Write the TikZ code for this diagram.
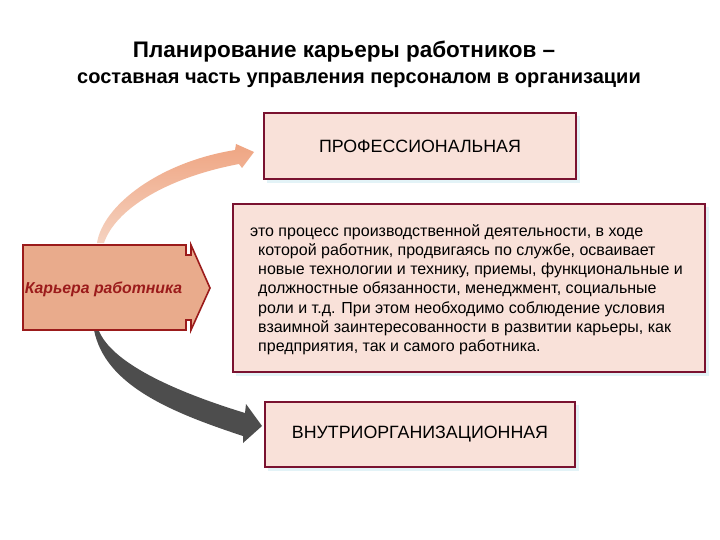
\documentclass[tikz,border=0pt]{standalone}
\usepackage{fontspec}
\setmainfont{Liberation Sans}
\definecolor{boxfill}{HTML}{F9E1D9}
\definecolor{boxline}{HTML}{7A1230}
\definecolor{carfill}{HTML}{E9AB8C}
\definecolor{carline}{HTML}{9B1B1B}
\definecolor{darkarrow}{HTML}{4D4D4D}
\definecolor{paleend}{HTML}{F5D2C0}
\definecolor{salmon}{HTML}{EFA582}
\definecolor{shadowc}{HTML}{E3F3F7}
\begin{document}
\begin{tikzpicture}[x=1pt,y=-1pt,
  box/.style={draw=boxline, line width=1.8pt, fill=boxfill, inner sep=0pt, font=\fontsize{17.8}{20}\selectfont}]
\useasboundingbox[fill=white] (0,0) rectangle (720,540);

% title
\node[font=\bfseries\fontsize{22.5}{26}\selectfont] (t1) at (344,52) {Планирование карьеры работников –};
\node[font=\bfseries\fontsize{20}{24}\selectfont] (t2) at (359,80) {составная часть управления персоналом в организации};

% boxes with faint shadows
\fill[shadowc] (267,116) rectangle (580,183);
\node[box, minimum width=312pt, minimum height=66pt] (prof) at (420,146) {ПРОФЕССИОНАЛЬНАЯ};
\fill[shadowc] (236,207) rectangle (709,376);
\node[box, minimum width=472pt, minimum height=168pt] (desc) at (469,288) {};
\node[anchor=north west, inner sep=0pt, align=left, font=\fontsize{16}{19.3}\selectfont] (desctext) at (258,224)
{\hspace*{-8pt}это процесс производственной деятельности, в ходе\\
которой работник, продвигаясь по службе, осваивает\\
новые технологии и технику, приемы, функциональные и\\
должностные обязанности, менеджмент, социальные\\
роли и т.д. При этом необходимо соблюдение условия\\
взаимной заинтересованности в развитии карьеры, как\\
предприятия, так и самого работника.};
\fill[shadowc] (268,405) rectangle (579,471);
\node[box, minimum width=310pt, minimum height=65pt] (vnutr) at (420,434.5) {ВНУТРИОРГАНИЗАЦИОННАЯ};

% curved arrows
\shade[bottom color=paleend, middle color=salmon, top color=salmon]
  (97,243) .. controls (103,205) and (160,162) .. (235,150)
  -- (236,144) -- (254,152) -- (242,168) -- (239,164)
  .. controls (165,178) and (115,210) .. (104,243) -- cycle;
\fill[darkarrow]
  (94,330) .. controls (105,385) and (170,412) .. (243,436)
  -- (243,443) -- (262,426) -- (246,404) -- (245,413)
  .. controls (170,390) and (112,362) .. (99,331) -- cycle;

% career shape
\draw[draw=carline, line width=1.6pt, fill=carfill, line join=miter]
  (23,245) -- (186,245) -- (186,255) -- (191,255) -- (191,245) -- (210,288)
  -- (191,330) -- (191,320) -- (186,320) -- (186,330) -- (23,330) -- cycle;
\node[text=carline, font=\bfseries\itshape\fontsize{15.8}{18}\selectfont] (car) at (103.5,289) {Карьера работника};
\end{tikzpicture}
\end{document}
